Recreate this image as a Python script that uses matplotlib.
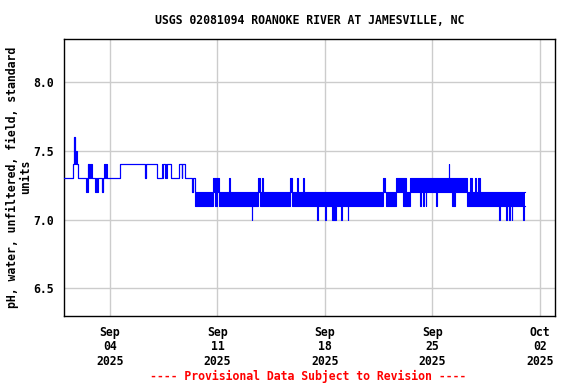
import numpy as np
import pandas as pd
import matplotlib
matplotlib.use("Agg")
import matplotlib.pyplot as plt
import matplotlib.dates as mdates

# ---- data ----
start_date = "2025-09-01"
# segment start, in days after start_date; value range within the segment (min, max)
seg_day = [0.00, 0.59, 0.64, 0.67, 0.69, 0.83, 0.89, 1.43, 1.58, 1.60, 1.70, 1.83,
           2.02, 2.20, 2.49, 2.51, 2.61, 2.78, 3.65, 5.30, 5.32, 6.05, 6.40, 6.45,
           6.59, 6.74, 7.00, 7.52, 7.69, 7.71, 7.91, 8.37, 8.39, 8.55, 9.72, 9.87,
           9.96, 10.10, 10.77, 10.79, 12.25, 12.27, 12.63, 12.76, 12.90, 13.00, 14.73, 14.86,
           15.21, 15.23, 15.60, 15.62, 16.51, 16.53, 17.03, 17.05, 17.48, 17.72, 18.08, 18.10,
           18.52, 18.54, 20.76, 20.82, 20.92, 20.98, 21.64, 22.09, 22.27, 22.53, 23.23, 23.26,
           23.39, 23.46, 23.59, 23.62, 24.26, 24.30, 25.06, 25.08, 25.30, 25.46, 26.27, 26.48,
           26.61, 26.79, 26.87, 27.00, 27.09, 28.33, 28.42, 28.81, 28.88, 28.98, 29.07, 29.18,
           29.22, 29.94, 29.96]
seg_low = [7.3, 7.4, 7.4, 7.6, 7.4, 7.4, 7.3, 7.2, 7.4, 7.3, 7.3, 7.3,
           7.2, 7.3, 7.2, 7.3, 7.3, 7.3, 7.4, 7.3, 7.4, 7.3, 7.3, 7.4,
           7.3, 7.4, 7.3, 7.4, 7.3, 7.4, 7.3, 7.2, 7.3, 7.1, 7.2, 7.1,
           7.2, 7.1, 7.1, 7.1, 7.0, 7.1, 7.2, 7.1, 7.1, 7.1, 7.2, 7.1,
           7.1, 7.1, 7.1, 7.1, 7.0, 7.1, 7.0, 7.1, 7.0, 7.1, 7.0, 7.1,
           7.0, 7.1, 7.2, 7.2, 7.2, 7.1, 7.2, 7.1, 7.1, 7.2, 7.1, 7.2,
           7.1, 7.2, 7.1, 7.2, 7.1, 7.2, 7.2, 7.2, 7.1, 7.2, 7.1, 7.1,
           7.1, 7.1, 7.1, 7.1, 7.1, 7.0, 7.1, 7.0, 7.1, 7.0, 7.1, 7.0,
           7.1, 7.0, 7.1]
seg_high = [7.3, 7.4, 7.5, 7.6, 7.5, 7.4, 7.3, 7.3, 7.4, 7.3, 7.4, 7.3,
            7.3, 7.3, 7.2, 7.3, 7.4, 7.3, 7.4, 7.3, 7.4, 7.3, 7.4, 7.4,
            7.4, 7.4, 7.3, 7.4, 7.3, 7.4, 7.3, 7.2, 7.3, 7.2, 7.3, 7.3,
            7.3, 7.2, 7.3, 7.2, 7.2, 7.2, 7.3, 7.2, 7.3, 7.2, 7.3, 7.2,
            7.3, 7.2, 7.3, 7.2, 7.2, 7.2, 7.2, 7.2, 7.2, 7.2, 7.2, 7.2,
            7.2, 7.2, 7.2, 7.3, 7.2, 7.2, 7.3, 7.3, 7.2, 7.3, 7.3, 7.3,
            7.3, 7.3, 7.3, 7.3, 7.3, 7.3, 7.4, 7.3, 7.3, 7.3, 7.2, 7.3,
            7.2, 7.3, 7.2, 7.3, 7.2, 7.2, 7.2, 7.2, 7.2, 7.2, 7.2, 7.2,
            7.2, 7.2, 7.2]
end_day = 30.07

y_ticks = [6.5, 7.0, 7.5, 8.0]
x_tick_dates = ["2025-09-04", "2025-09-11", "2025-09-18", "2025-09-25", "2025-10-02"]
x_range = ["2025-09-01", "2025-10-03"]
y_range = [6.30, 8.31]

title = "USGS 02081094 ROANOKE RIVER AT JAMESVILLE, NC"
y_label = "pH, water, unfiltered, field, standard\nunits"
footer = "---- Provisional Data Subject to Revision ----"

# ---- build step series ----
t0 = pd.Timestamp(start_date)
days = list(seg_day) + [end_day]
t = mdates.date2num((t0 + pd.to_timedelta(days, unit="D")).to_pydatetime())
lows_ext = np.array(list(seg_low) + [seg_low[-1]])
highs_ext = np.array(list(seg_high) + [seg_high[-1]])
# pair low/high per segment so that the band is drawn as a single path
band_x = np.repeat(t, 2)[1:-1]
band_lo = np.repeat(lows_ext[:-1], 2)
band_hi = np.repeat(highs_ext[:-1], 2)

mono = "DejaVu Sans Mono"
fs = 8.3

fig = plt.figure(figsize=(5.76, 3.84), dpi=100)
ax = fig.add_axes([64 / 576, 1 - 316 / 384, (555 - 64) / 576, (316 - 39) / 384])

blue = "#0000ff"
# dense oscillation between min and max within a segment: solid band
ax.fill_between(band_x, band_lo, band_hi, facecolor=blue, edgecolor="none", linewidth=0, zorder=3)
ax.step(t, lows_ext, where="post", color=blue, lw=0.8, zorder=4)
ax.step(t, highs_ext, where="post", color=blue, lw=0.8, zorder=4)

ax.set_xlim(mdates.date2num(pd.Timestamp(x_range[0])), mdates.date2num(pd.Timestamp(x_range[1])))
ax.set_ylim(*y_range)

ax.set_yticks(y_ticks)
ax.set_yticklabels([f"{v:.1f}" for v in y_ticks], fontfamily=mono, fontweight="bold", fontsize=fs)
xt = [mdates.date2num(pd.Timestamp(d)) for d in x_tick_dates]
ax.set_xticks(xt)
ax.set_xticklabels([pd.Timestamp(d).strftime("%b\n%d\n%Y") for d in x_tick_dates],
                   fontfamily=mono, fontweight="bold", fontsize=fs, linespacing=1.15)
ax.tick_params(axis="both", length=0)
ax.tick_params(axis="x", pad=7)
ax.tick_params(axis="y", pad=7)

ax.grid(True, color="#cccccc", lw=1.0)
ax.set_axisbelow(True)
for s in ax.spines.values():
    s.set_color("black")
    s.set_linewidth(1.0)

fig.text(309.5 / 576, 1 - 20 / 384, title, ha="center", va="center",
         fontfamily=mono, fontweight="bold", fontsize=fs)
fig.text(19 / 576, 1 - 177 / 384, y_label, ha="center", va="center", rotation=90,
         multialignment="center", fontfamily=mono, fontweight="bold", fontsize=fs, linespacing=1.1)
fig.text(308 / 576, 1 - 376 / 384, footer, ha="center", va="center", color="red",
         fontfamily=mono, fontweight="bold", fontsize=fs)

fig.savefig("out.png", dpi=100)
